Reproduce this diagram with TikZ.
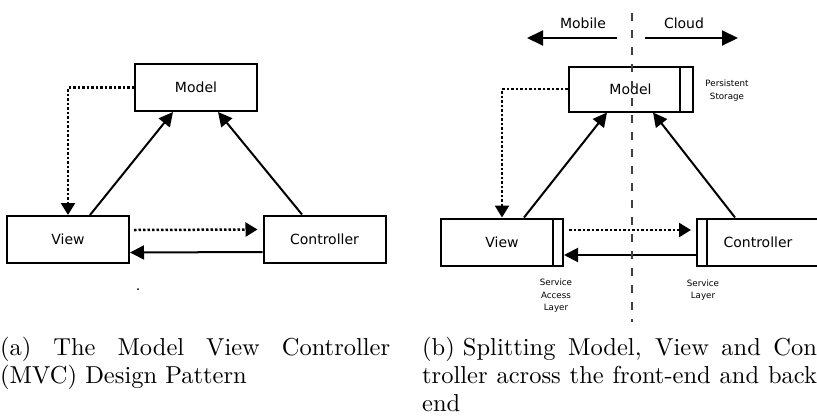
\documentclass[tikz,border=0pt]{standalone}
\usepackage{fontspec}
\setmainfont{lmroman10-regular}[Extension=.otf]
\newfontfamily\boxfont{DejaVu Sans}
\usetikzlibrary{arrows.meta}
\begin{document}
\begin{tikzpicture}[x=1pt,y=-1pt,
    box/.style={draw,line width=2pt,minimum width=122pt,minimum height=47pt,inner sep=0pt,
      font=\boxfont\fontsize{14}{16}\selectfont},
    side/.style={font=\boxfont\fontsize{14}{16}\selectfont,inner sep=0pt},
    note/.style={align=center,inner sep=0pt,font=\boxfont\fontsize{8.7}{12.5}\selectfont},
    flow/.style={line width=2pt,-{Triangle[length=14pt,width=14pt]}},
    msg/.style={line width=2.5pt,dash pattern=on 2.5pt off 2pt,-{Triangle[length=12pt,width=14pt]}},
    subcap/.style={inner sep=0pt,anchor=base west,align=justify,
      font=\fontsize{24.5}{28.3}\selectfont}]
  \path[use as bounding box,clip] (0,0) rectangle (817,416);

  % (a) plain MVC
  \node[box] (model) at (196,87.5) {Model};
  \node[box] (view) at (68,239.5) {View};
  \node[box] (ctrl) at (324.5,239) {Controller};
  \draw[msg] (model.west) -| (view.north);
  \draw[msg] ([xshift=4pt,yshift=9.5pt]view.east) -- ([xshift=-5pt,yshift=9.5pt]ctrl.west);
  \draw[flow] ([yshift=-13pt]ctrl.west) -- ([yshift=-13pt]view.east);
  \draw[flow] ([xshift=22pt]view.north) -- ([xshift=-23pt]model.south);
  \draw[flow] ([xshift=-22.5pt]ctrl.north) -- ([xshift=22pt]model.south);
  \fill (138,289) circle (1);
  \node[subcap,text width=390pt] (capa) at (0,355)
    {(a) The Model View Controller\linebreak (MVC) Design Pattern};

  % (b) MVC split between mobile and cloud
  \node[box,minimum width=124pt,minimum height=45pt] (model2) at (630.5,89) {Model};
  \node[box] (view2) at (502,242) {View};
  \node[box] (ctrl2) at (758,242) {Controller};
  \draw[line width=2pt] ([xshift=-14pt]model2.north east) -- ([xshift=-14pt]model2.south east);
  \draw[line width=2pt] ([xshift=-11pt]view2.north east) -- ([xshift=-11pt]view2.south east);
  \draw[line width=2pt] ([xshift=11pt]ctrl2.north west) -- ([xshift=11pt]ctrl2.south west);
  \draw[msg] (model2.west) -| (view2.north);
  \draw[msg] ([xshift=5pt,yshift=12pt]view2.east) -- ([xshift=-5pt,yshift=12pt]ctrl2.west);
  \draw[flow] ([yshift=-13pt]ctrl2.west) -- ([yshift=-13pt]view2.east);
  \draw[flow] ([xshift=22pt]view2.north) -- ([xshift=-23.5pt]model2.south);
  \draw[flow] ([xshift=-23pt]ctrl2.north) -- ([xshift=22.5pt]model2.south);
  \node[note] (store) at (727,90.5) {Persistent\\Storage};
  \node[note] (sal) at (556,296) {Service\\Access\\Layer};
  \node[note] (sl) at (703,290) {Service\\Layer};

  % mobile / cloud split
  \coordinate (top) at (632,13);
  \coordinate (bot) at (632,322);
  \draw[black!75,line width=1.3pt,dash pattern=on 8pt off 9pt] (top) -- (bot);
  \node[side] (mobile) at (583,23) {Mobile};
  \node[side] (cloud) at (684,23) {Cloud};
  \coordinate (mobr) at (617,38);
  \coordinate (mobl) at (527,38);
  \coordinate (cldl) at (645,38);
  \coordinate (cldr) at (738,38);
  \draw[line width=2pt,-{Triangle[length=16pt,width=15pt]}] (mobr) -- (mobl);
  \draw[line width=2pt,-{Triangle[length=16pt,width=15pt]}] (cldl) -- (cldr);
  \node[subcap,text width=403pt] (capb) at (422,355)
    {(b)\hspace{.33em}Splitting Model, View and Con-\linebreak troller across the front-end and back-\linebreak end};
\end{tikzpicture}
\end{document}
